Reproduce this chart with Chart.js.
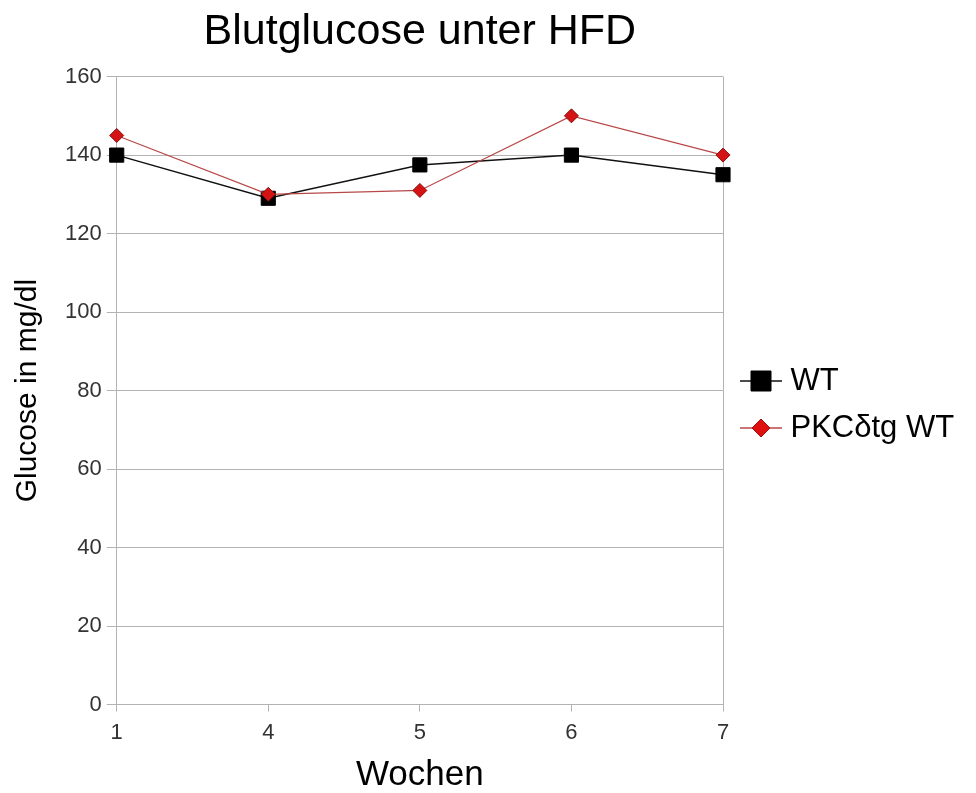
<!DOCTYPE html>
<html>
<head>
<meta charset="utf-8">
<title>Blutglucose unter HFD</title>
<script src="https://cdn.jsdelivr.net/npm/chart.js@4/dist/chart.umd.min.js"></script>
<style>
  body { margin: 0; background: #fff; }
  #wrap { width: 976px; height: 793px; }
</style>
</head>
<body>
<div id="wrap"><canvas id="myChart"></canvas></div>
<script>
// data for the chart
var weeks = ["1", "4", "5", "6", "7"]
var wtValues = [140, 129, 137.5, 140, 135]
var pkcValues = [145, 130, 131, 150, 140]
var seriesNames = ["WT", "PKC\u03b4tg WT"]
var yTicks = [0, 20, 40, 60, 80, 100, 120, 140, 160]

var gridColor = '#b3b3b3'
var fontName = '"Liberation Sans", Arial, sans-serif'

// FUNCTION: small canvas with a line and the marker, used as legend symbol
function legendSymbol(shape, fill, stroke, lineColor) {
    var c = document.createElement('canvas');
    c.width = 50;
    c.height = 24;
    var g = c.getContext('2d');
    g.strokeStyle = lineColor;
    g.lineWidth = 1.5;
    g.beginPath();
    g.moveTo(8, 12);
    g.lineTo(50, 12);
    g.stroke();
    g.fillStyle = fill;
    g.strokeStyle = stroke;
    g.lineWidth = 1;
    g.beginPath();
    if (shape == 'rect') {
        g.rect(19, 2, 20, 20);
    } else {
        g.moveTo(29, 3);
        g.lineTo(38, 12);
        g.lineTo(29, 21);
        g.lineTo(20, 12);
        g.closePath();
    }
    g.fill();
    g.stroke();
    return c;
}

var symbols = [
    legendSymbol('rect', '#000', '#000', '#111'),
    legendSymbol('diamond', '#e01010', '#9a1010', '#b84848')
]

var ctx = document.getElementById('myChart').getContext('2d');

var chart = new Chart(ctx, {
    type: 'line',
    data: {
        labels: weeks,
        datasets: [{
            label: seriesNames[0],
            data: wtValues,
            borderColor: '#111',
            borderWidth: 1.5,
            pointStyle: 'rect',
            pointRadius: 10,
            pointBackgroundColor: '#000',
            pointBorderColor: '#000',
            pointBorderWidth: 1,
            order: 1
        }, {
            label: seriesNames[1],
            data: pkcValues,
            borderColor: '#b84848',
            borderWidth: 1.2,
            pointStyle: 'rectRot',
            pointRadius: 7,
            pointBackgroundColor: '#d41414',
            pointBorderColor: '#8a1010',
            pointBorderWidth: 1,
            order: 0
        }]
    },
    options: {
        responsive: true,
        maintainAspectRatio: false,
        animation: false,
        layout: { padding: { left: 6, right: 14, top: 0, bottom: 0 } },
        plugins: {
            tooltip: { enabled: false },
            title: {
                display: true,
                text: 'Blutglucose unter HFD',
                fullSize: false,
                color: '#000',
                font: { family: fontName, size: 43, weight: 'normal' },
                padding: { top: 6, bottom: 19 }
            },
            legend: {
                position: 'right',
                // empty title, only pushes the entries down a little
                title: { display: true, text: '', font: { size: 10 }, padding: 2 },
                labels: {
                    usePointStyle: true,
                    pointStyleWidth: 36,
                    boxHeight: 20,
                    padding: 16,
                    color: '#000',
                    font: { family: fontName, size: 31 },
                    generateLabels: function(chart) {
                        return chart.data.datasets.map(function(ds, i) {
                            return {
                                text: ds.label,
                                pointStyle: symbols[i],
                                fillStyle: 'transparent',
                                strokeStyle: 'transparent',
                                lineWidth: 0,
                                fontColor: '#000',
                                datasetIndex: i
                            };
                        });
                    }
                }
            }
        },
        scales: {
            x: {
                offset: false,
                grid: {
                    color: function(c) {
                        // only the left and right edge of the plot get a line
                        return (c.index === 0 || c.index === weeks.length - 1) ? gridColor : 'transparent';
                    },
                    tickColor: gridColor,
                    tickLength: 7
                },
                border: { color: gridColor },
                ticks: {
                    color: '#333',
                    padding: 8,
                    maxRotation: 0,
                    font: { family: fontName, size: 22 }
                },
                title: {
                    display: true,
                    text: 'Wochen',
                    color: '#000',
                    font: { family: fontName, size: 35, lineHeight: 1 },
                    padding: { top: 4, bottom: 0 }
                }
            },
            y: {
                min: 0,
                max: 160,
                afterBuildTicks: function(axis) {
                    axis.ticks = yTicks.map(function(v) { return { value: v }; });
                },
                grid: { color: gridColor, tickLength: 10 },
                border: { color: gridColor },
                ticks: {
                    color: '#333',
                    padding: 5,
                    font: { family: fontName, size: 22 }
                },
                title: {
                    display: true,
                    text: 'Glucose in mg/dl',
                    color: '#000',
                    font: { family: fontName, size: 30 },
                    padding: { top: 4, bottom: 14 }
                }
            }
        }
    }
});
</script>
</body>
</html>
